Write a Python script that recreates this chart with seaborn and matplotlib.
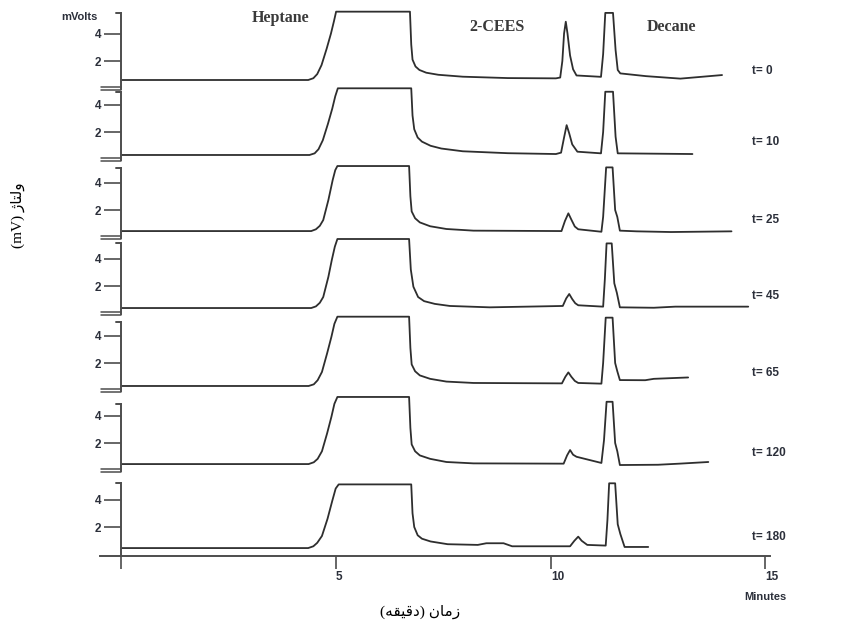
import matplotlib
matplotlib.use("Agg")
import pandas as pd
import matplotlib.pyplot as plt
import seaborn as sns

# Estilo geral
sns.set_theme(style="ticks")
plt.rcParams['font.family'] = ['Liberation Sans', 'DejaVu Sans']

sample_labels = ["t= 0", "t= 10", "t= 25", "t= 45", "t= 65", "t= 120", "t= 180"]
peak_names = ["Heptane", "2-CEES", "Decane"]

t0_min = [0, 4.35, 4.47, 4.56, 4.66, 4.78, 4.88, 4.95, 5.00, 6.72, 6.75, 6.78, 6.85, 6.94, 7.1,
          7.38, 7.95, 9.0, 10.12, 10.22, 10.27, 10.31, 10.35, 10.39, 10.45, 10.52, 10.6,
          11.17, 11.22, 11.27, 11.45, 11.51, 11.56, 11.62, 12.22, 13.02, 13.99]
t0_mv = [0.62, 0.62, 0.75, 1.05, 1.7, 2.9, 4.0, 4.9, 5.59, 5.59, 3.2, 2.1, 1.6, 1.35, 1.15,
         1.0, 0.86, 0.76, 0.74, 0.8, 2.0, 4.0, 4.86, 4.0, 2.4, 1.4, 0.95,
         0.85, 2.5, 5.5, 5.5, 2.8, 1.35, 1.1, 0.9, 0.72, 0.98]

t10_min = [0, 4.38, 4.50, 4.59, 4.69, 4.81, 4.91, 4.98, 5.04, 6.75, 6.78, 6.82, 6.9, 7.0, 7.2,
           7.45, 7.95, 9.0, 10.12, 10.24, 10.31, 10.37, 10.43, 10.5, 10.62, 11.17, 11.22, 11.27,
           11.45, 11.51, 11.56, 13.3]
t10_mv = [0.33, 0.33, 0.45, 0.75, 1.4, 2.6, 3.7, 4.6, 5.18, 5.18, 3.2, 2.2, 1.6, 1.3, 1.0,
          0.8, 0.6, 0.46, 0.4, 0.5, 1.6, 2.5, 1.9, 1.1, 0.57, 0.45, 2.0, 4.93,
          4.93, 1.66, 0.45, 0.4]

t25_min = [0, 4.42, 4.53, 4.62, 4.70, 4.82, 4.92, 4.98, 5.03, 6.70, 6.73, 6.76, 6.84, 6.95, 7.19,
           7.57, 8.2, 10.25, 10.33, 10.41, 10.48, 10.56, 10.64, 11.18, 11.22, 11.29, 11.44, 11.50,
           11.55, 11.61, 12.0, 12.8, 14.21]
t25_mv = [0.47, 0.47, 0.6, 0.85, 1.27, 2.73, 4.18, 4.9, 5.2, 5.2, 3.0, 1.9, 1.4, 1.1, 0.82,
          0.62, 0.5, 0.47, 1.2, 1.76, 1.3, 0.8, 0.6, 0.42, 1.5, 5.1, 5.1, 2.0,
          1.5, 0.5, 0.45, 0.4, 0.45]

t45_min = [0, 4.42, 4.53, 4.62, 4.70, 4.82, 4.90, 4.97, 5.03, 6.70, 6.74, 6.80, 6.91, 7.05, 7.3,
           7.65, 8.58, 10.28, 10.36, 10.43, 10.5, 10.57, 10.64, 11.22, 11.26, 11.30, 11.42, 11.48,
           11.54, 11.61, 12.4, 12.9, 14.6]
t45_mv = [0.4, 0.4, 0.52, 0.78, 1.2, 2.67, 3.9, 4.86, 5.42, 5.42, 3.2, 1.95, 1.2, 0.9, 0.7,
          0.55, 0.45, 0.55, 1.1, 1.42, 1.05, 0.75, 0.6, 0.5, 2.5, 5.1, 5.1, 2.2,
          1.5, 0.45, 0.42, 0.5, 0.5]

t65_min = [0, 4.36, 4.48, 4.57, 4.67, 4.79, 4.89, 4.96, 5.03, 6.70, 6.73, 6.76, 6.84, 6.95, 7.19,
           7.57, 8.2, 10.26, 10.34, 10.41, 10.48, 10.56, 10.64, 11.18, 11.22, 11.28, 11.44, 11.50,
           11.55, 11.61, 12.2, 12.4, 13.2]
t65_mv = [0.33, 0.33, 0.45, 0.75, 1.35, 2.7, 3.9, 4.85, 5.37, 5.37, 3.1, 1.9, 1.4, 1.1, 0.85,
          0.65, 0.55, 0.52, 1.0, 1.32, 1.0, 0.7, 0.55, 0.5, 2.0, 5.3, 5.3, 2.0,
          1.4, 0.76, 0.75, 0.85, 0.95]

t120_min = [0, 4.36, 4.48, 4.57, 4.67, 4.79, 4.89, 4.96, 5.03, 6.70, 6.73, 6.76, 6.84, 6.95, 7.19,
            7.57, 8.2, 10.3, 10.38, 10.45, 10.52, 10.60, 11.18, 11.24, 11.30, 11.44, 11.50, 11.55,
            11.61, 12.5, 13.0, 13.67]
t120_mv = [0.47, 0.47, 0.6, 0.85, 1.4, 2.7, 3.9, 4.85, 5.35, 5.35, 3.1, 1.9, 1.4, 1.1, 0.85,
           0.62, 0.52, 0.5, 1.1, 1.49, 1.15, 1.0, 0.55, 2.2, 5.0, 5.0, 2.0, 1.4,
           0.4, 0.42, 0.5, 0.62]

t180_min = [0, 4.35, 4.47, 4.56, 4.67, 4.80, 4.91, 4.99, 5.06, 6.75, 6.78, 6.82, 6.9, 7.0, 7.2,
            7.6, 8.3, 8.5, 8.9, 9.1, 10.45, 10.55, 10.64, 10.72, 10.85, 11.28, 11.32, 11.36,
            11.50, 11.56, 11.62, 11.72, 12.27]
t180_mv = [0.47, 0.47, 0.6, 0.85, 1.35, 2.6, 3.9, 4.8, 5.1, 5.1, 3.0, 2.0, 1.4, 1.15, 0.95,
           0.75, 0.7, 0.82, 0.82, 0.6, 0.6, 1.0, 1.3, 1.0, 0.7, 0.65, 2.5, 5.18,
           5.18, 2.2, 1.5, 0.55, 0.55]

traces = [(t0_min, t0_mv), (t10_min, t10_mv), (t25_min, t25_mv), (t45_min, t45_mv),
          (t65_min, t65_mv), (t120_min, t120_mv), (t180_min, t180_mv)]

# textos em persa (formas de apresentação, já em ordem visual da esquerda para a direita,
# porque o matplotlib não faz shaping nem bidi)
xlabel_fa = "(\ufeea\ufed8\ufbff\ufed7\ufea9) \ufee5\ufe8e\ufee3\ufeaf"   # زمان (دقیقه)
ylabel_fa = "(mV) \ufb8a\ufe8e\ufe98\ufedf\ufeed"                          # ولتاژ (mV)

# --- layout ---
W, H = 843, 628
panel_px = [77.9, 71, 78, 76, 77, 80, 84]     # altura de cada painel em pixels
px_per_mv = 13.75
spine_tops = [5.5, 4.9, 5.05, 5.1, 5.0, 4.85, 5.2]
line_col = '#2e2e2e'
axis_col = '#4d4d4d'
text_col = '#2b2f3a'

fig = plt.figure(figsize=(W / 100, H / 100), dpi=100)
gs = fig.add_gridspec(7, 1, height_ratios=panel_px, left=100 / W, right=769.7 / W,
                      top=1 - 12 / H, bottom=1 - 555.9 / H, hspace=0)

axes = []
for i, (tt, mv) in enumerate(traces):
    ax = fig.add_subplot(gs[i])
    df = pd.DataFrame({'tempo': tt, 'sinal': mv})
    sns.lineplot(data=df, x='tempo', y='sinal', ax=ax, color=line_col, linewidth=1.3,
                 estimator=None, sort=False)
    for ln in ax.lines:
        ln.set_clip_on(False)

    ax.set_xlim(-0.5, 15.1)
    ax.set_ylim(-0.1, panel_px[i] / px_per_mv - 0.1)
    ax.set_xlabel('')
    ax.set_ylabel('')
    ax.patch.set_alpha(0)

    for s in ['top', 'right']:
        ax.spines[s].set_visible(False)
    ax.spines['left'].set_position(('data', 0))
    ax.spines['left'].set_color(axis_col)
    ax.spines['left'].set_linewidth(1.4)
    last = i == len(traces) - 1
    ax.spines['left'].set_bounds(-0.1 if last else 0, spine_tops[i])

    # pequeno gancho no topo e marca de quebra na base do eixo
    ax.plot([-0.12, 0], [spine_tops[i]] * 2, color=axis_col, lw=1.4, clip_on=False)
    if not last:
        ax.plot([-0.47, 0], [0.1, 0.1], color=axis_col, lw=1.1, clip_on=False)
        ax.plot([-0.47, 0], [-0.12, -0.12], color=axis_col, lw=1.1, clip_on=False)

    ax.set_yticks([2, 4])
    ax.set_yticklabels(['2', '4'])
    ax.tick_params(axis='y', direction='out', length=12.5, width=1.2, color=axis_col,
                   labelcolor=text_col, labelsize=8.5, pad=2)
    for lb in ax.get_yticklabels():
        lb.set_fontweight('bold')

    if last:
        ax.spines['bottom'].set_color(axis_col)
        ax.spines['bottom'].set_linewidth(1.4)
        ax.set_xticks([0, 5, 10, 15])
        ax.set_xticklabels(['', '5', '10', '15'])
        ax.tick_params(axis='x', direction='out', length=9.5, width=1.2, color=axis_col,
                       labelcolor=text_col, labelsize=8.5, pad=1.5)
        for lb in ax.get_xticklabels():
            lb.set_ha('left')
            lb.set_fontweight('bold')
    else:
        ax.spines['bottom'].set_visible(False)
        ax.tick_params(axis='x', bottom=False, labelbottom=False)

    ax.text(14.69, 1.25, sample_labels[i], ha='left', va='center', fontsize=8.5,
            fontweight='bold', color=text_col)
    axes.append(ax)

# rótulos dos picos e unidade no painel de cima
top = axes[0]
for name, x, y in zip(peak_names, [3.7, 8.75, 12.82], [5.13, 4.47, 4.5]):
    top.text(x, y, name, ha='center', va='center', fontsize=11.5, fontweight='bold',
             family=['Liberation Serif', 'DejaVu Serif'], color='#3a3a3a')
top.text(-0.55, 5.2, 'mVolts', ha='right', va='center', fontsize=8, fontweight='bold',
         color=text_col)

fig.text(765 / W, 1 - 597 / H, 'Minutes', ha='center', va='center', fontsize=8,
         fontweight='bold', color=text_col)
fig.text(420 / W, 1 - 612 / H, xlabel_fa, ha='center', va='center', fontsize=11,
         family=['Liberation Serif', 'DejaVu Sans'], color='black')
fig.text(18 / W, 1 - 215 / H, ylabel_fa, ha='center', va='center', rotation=90, fontsize=11,
         family=['Liberation Serif', 'DejaVu Sans'], color='black')

fig.savefig('out.png', dpi=100)
